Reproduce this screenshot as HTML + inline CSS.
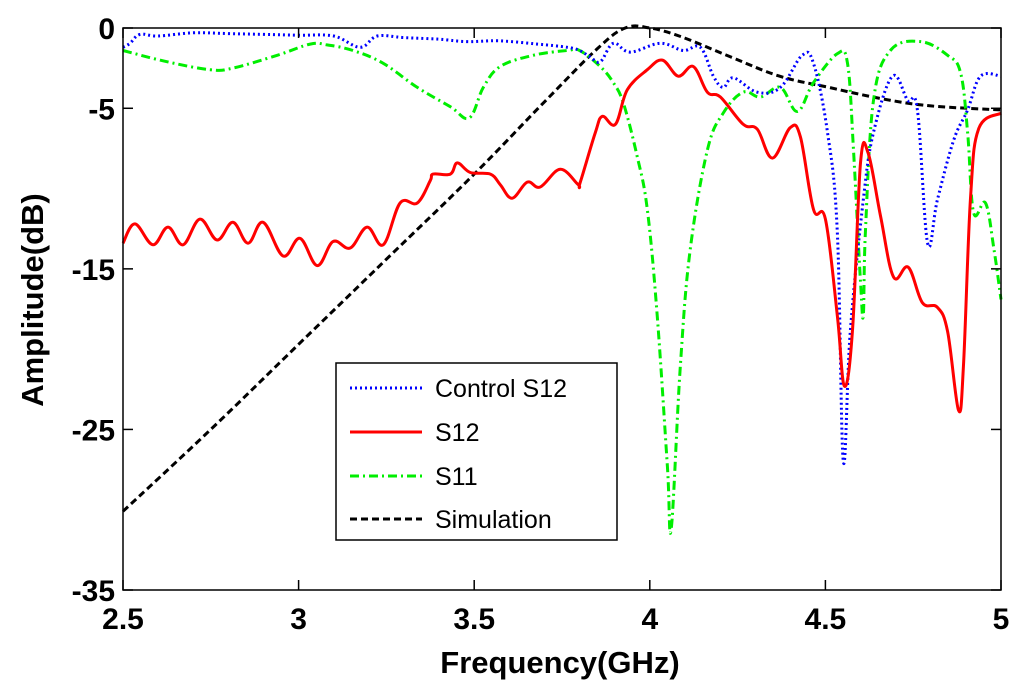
<!DOCTYPE html>
<html><head><meta charset="utf-8"><style>
html,body{margin:0;padding:0;background:#fff;}
svg{display:block;font-family:"Liberation Sans",Arial,sans-serif;}
</style></head><body>
<svg id="chart" width="1024" height="696" viewBox="0 0 1024 696" xmlns="http://www.w3.org/2000/svg">
<g id="grid"></g>
<g id="series"></g>
<g id="axes"></g>
<g id="legend"></g>
</svg>
<script>
const xTicks=[2.5,3,3.5,4,4.5,5];
const xTickLabels=["2.5","3","3.5","4","4.5","5"];
const yTicks=[0,-5,-15,-25,-35];
const yTickLabels=["0","-5","-15","-25","-35"];
const seriesNames=["Control S12","S12","S11","Simulation"];

const ctrlF=[2.5,2.52,2.548,2.6,2.7,2.8,2.9,3.0,3.1,3.175,3.224,3.3,3.4,3.48,3.57,3.68,3.765,3.8,3.83,3.859,3.896,3.944,4.03,4.095,4.144,4.181,4.209,4.238,4.306,4.372,4.434,4.466,4.506,4.534,4.551,4.571,4.608,4.637,4.691,4.734,4.762,4.791,4.819,4.865,4.905,4.942,5.0];
const ctrlV=[-1.2,-0.95,-0.4,-0.5,-0.3,-0.35,-0.4,-0.45,-0.5,-1.2,-0.5,-0.6,-0.7,-0.85,-0.8,-1.0,-1.2,-1.4,-1.8,-2.1,-0.95,-1.5,-0.95,-1.4,-1.2,-3.0,-3.7,-3.1,-4.0,-3.7,-1.7,-2.2,-6.5,-12.7,-27,-18.9,-10.7,-6.5,-3.0,-4.5,-5.1,-13.4,-10.7,-7.0,-5.1,-3.0,-3.0];

const s12F=[2.5,2.534,2.585,2.628,2.671,2.719,2.768,2.813,2.856,2.899,2.956,3.004,3.053,3.098,3.147,3.195,3.241,3.289,3.338,3.375,3.383,3.432,3.452,3.489,3.546,3.574,3.608,3.651,3.688,3.745,3.796,3.802,3.845,3.865,3.902,3.936,3.993,4.036,4.081,4.124,4.164,4.201,4.266,4.306,4.349,4.4,4.429,4.466,4.5,4.534,4.554,4.577,4.6,4.622,4.657,4.694,4.736,4.776,4.819,4.848,4.879,4.893,4.913,4.936,5.0];
const s12V=[-13.4,-12.2,-13.5,-12.4,-13.5,-11.9,-13.2,-12.1,-13.4,-12.1,-14.2,-13.1,-14.8,-13.3,-13.7,-12.4,-13.5,-10.9,-10.9,-9.5,-9.1,-9.1,-8.4,-9.0,-9.1,-9.75,-10.6,-9.6,-9.9,-8.8,-9.75,-9.6,-6.5,-5.5,-6.0,-3.85,-2.6,-2.0,-3.0,-2.4,-4.0,-4.3,-6.0,-6.3,-8.1,-6.2,-6.8,-11.3,-11.9,-17.9,-22.3,-18.9,-8.4,-7.8,-11.7,-15.5,-14.9,-17.1,-17.4,-18.9,-23.8,-21.1,-10.7,-6.3,-5.3];

const s11F=[2.5,2.625,2.748,2.813,2.939,3.033,3.081,3.155,3.241,3.338,3.432,3.486,3.526,3.574,3.668,3.765,3.8,3.859,3.896,3.925,3.964,3.993,4.021,4.05,4.061,4.087,4.115,4.164,4.209,4.266,4.315,4.372,4.42,4.466,4.534,4.563,4.58,4.6,4.608,4.614,4.637,4.685,4.771,4.848,4.885,4.905,4.922,4.956,4.98,5.0];
const s11V=[-1.4,-2.1,-2.6,-2.5,-1.7,-1.0,-1.05,-1.4,-2.2,-3.7,-4.9,-5.6,-3.7,-2.4,-1.7,-1.4,-1.4,-2.4,-3.4,-4.7,-8.0,-11.3,-17.9,-27.3,-31.2,-21,-13.8,-7.6,-5.3,-4.0,-4.3,-3.7,-5.2,-3.4,-1.6,-2.2,-7.6,-15.8,-17.9,-12.7,-4.5,-1.4,-0.85,-1.7,-2.8,-6.5,-11.5,-10.9,-13.8,-16.9];

const simF=[2.5,2.75,3.0,3.25,3.5,3.7,3.85,3.93,4.0,4.09,4.23,4.37,4.51,4.66,4.8,5.0];
const simV=[-30.1,-25,-19.7,-14.4,-9.1,-4.6,-1.3,0,0,-0.55,-1.8,-3.0,-3.7,-4.4,-4.85,-5.1];

const L=123,R=1001,T=28,B=590;
const xMin=2.5,xMax=5,yMin=-35,yMax=0;
function sx(f){return L+(f-xMin)/(xMax-xMin)*(R-L);}
function sy(v){return T+(yMax-v)/(yMax-yMin)*(B-T);}
const NS="http://www.w3.org/2000/svg";
function mk(tag,attrs,parent){const e=document.createElementNS(NS,tag);for(const k in attrs)e.setAttribute(k,attrs[k]);parent.appendChild(e);return e;}
function smoothPath(P){
 let d="M"+P[0][0].toFixed(1)+","+P[0][1].toFixed(1);
 const t=0.18;
 for(let i=0;i<P.length-1;i++){
  const p0=P[i-1]||P[i],p1=P[i],p2=P[i+1],p3=P[i+2]||P[i+1];
  const c1x=p1[0]+(p2[0]-p0[0])*t,c1y=p1[1]+(p2[1]-p0[1])*t;
  const c2x=p2[0]-(p3[0]-p1[0])*t,c2y=p2[1]-(p3[1]-p1[1])*t;
  d+="C"+c1x.toFixed(1)+","+c1y.toFixed(1)+" "+c2x.toFixed(1)+","+c2y.toFixed(1)+" "+p2[0].toFixed(1)+","+p2[1].toFixed(1);
 }
 return d;
}

const series=document.getElementById('series');
const styles=[
 {c:"#0000ff",d:"2 3",w:3},
 {c:"#ff0000",d:"",w:3},
 {c:"#00ee00",d:"9 4 2 4",w:3},
 {c:"#000000",d:"7 4",w:3}
];
const data=[[ctrlF,ctrlV],[s12F,s12V],[s11F,s11V],[simF,simV]];
const names=["control-s12-line","s12-line","s11-line","simulation-line"];
[3,2,0,1].forEach(i=>{
 const [F,V]=data[i];
 const P=F.map((f,k)=>[sx(f),sy(V[k])]);
 const p=mk('path',{d:smoothPath(P),fill:"none",stroke:styles[i].c,"stroke-width":styles[i].w,"stroke-dasharray":styles[i].d,"stroke-linejoin":"round"},series);
 
 
});

const axes=document.getElementById('axes');
const frame=mk('rect',{x:L,y:T,width:R-L,height:B-T,fill:"none",stroke:"#000","stroke-width":1.5},axes);


xTicks.forEach((t,i)=>{
 const x=sx(t);
 mk('line',{x1:x,y1:B,x2:x,y2:B-10,stroke:"#000","stroke-width":1.5},axes);
 mk('line',{x1:x,y1:T,x2:x,y2:T+10,stroke:"#000","stroke-width":1.5},axes);
 const tx=mk('text',{x:x,y:B+39,"text-anchor":"middle","font-size":30,"font-weight":"bold"},axes);
 tx.textContent=xTickLabels[i];
 
 
});
yTicks.forEach((t,i)=>{
 const y=sy(t);
 mk('line',{x1:L,y1:y,x2:L+10,y2:y,stroke:"#000","stroke-width":1.5},axes);
 mk('line',{x1:R,y1:y,x2:R-10,y2:y,stroke:"#000","stroke-width":1.5},axes);
 const tx=mk('text',{x:L-8,y:y+11,"text-anchor":"end","font-size":30,"font-weight":"bold"},axes);
 tx.textContent=yTickLabels[i];
 
 
});
const xt=mk('text',{x:560,y:673,"text-anchor":"middle","font-size":31,"font-weight":"bold"},axes);
xt.textContent="Frequency(GHz)";


const yt=mk('text',{x:0,y:0,"text-anchor":"middle","font-size":31,"font-weight":"bold",transform:"translate(43,300) rotate(-90)"},axes);
yt.textContent="Amplitude(dB)";



const lg=document.getElementById('legend');


mk('rect',{x:336,y:363,width:281,height:177,fill:"#fff",stroke:"#000","stroke-width":1.5},lg);
const ly=[388,432,476,519];
seriesNames.forEach((n,i)=>{
 const g=mk('g',{},lg);
 
 
 mk('line',{x1:350,y1:ly[i],x2:422,y2:ly[i],stroke:styles[i].c,"stroke-width":3,"stroke-dasharray":styles[i].d},g);
 const t=mk('text',{x:435,y:ly[i]+9,"font-size":25},g);
 t.textContent=n;
});
</script>
</body></html>
